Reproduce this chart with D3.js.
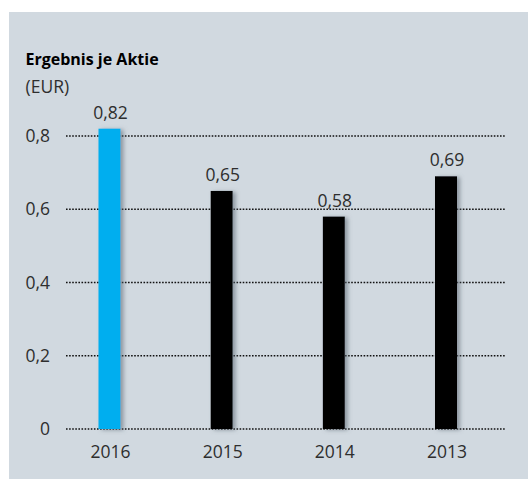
<!DOCTYPE html>
<html><head><meta charset="utf-8">
<script src="https://cdn.jsdelivr.net/npm/d3@7"></script>
<style>html,body{margin:0;padding:0;background:#fff}svg{display:block}text{font-family:"Open Sans",sans-serif;fill:#2e2e2e}</style>
</head><body>
<script>
const years = ["2016","2015","2014","2013"];
const values = [0.82,0.65,0.58,0.69];
const valueLabels = ["0,82","0,65","0,58","0,69"];
const barColors = ["#00aeef","#000000","#000000","#000000"];
const tickValues = [0,0.2,0.4,0.6,0.8];
const tickLabels = ["0","0,2","0,4","0,6","0,8"];
const title = "Ergebnis je Aktie";
const unit = "(EUR)";

const W=528,H=479;
const svg=d3.select("body").append("svg").attr("width",W).attr("height",H);
svg.append("rect").attr("x",9).attr("y",12).attr("width",W-9).attr("height",H-12).attr("fill","#d1d9e0");

const defs=svg.append("defs");
const f=defs.append("filter").attr("id","sh").attr("x","-50%").attr("y","-10%").attr("width","200%").attr("height","120%");
f.append("feDropShadow").attr("dx",3).attr("dy",1).attr("stdDeviation",2).attr("flood-color","#5f6a75").attr("flood-opacity",0.6);

const y=d3.scaleLinear().domain([0,0.8]).range([429,136]);
const x=d3.scalePoint().domain(years).range([109.5,446]);
const bw=22;
const fs=17.5;

// gridlines
svg.append("g").selectAll("line").data(tickValues).join("line")
  .attr("x1",66).attr("x2",505).attr("y1",d=>y(d)).attr("y2",d=>y(d))
  .attr("stroke","#111").attr("stroke-width",1.6).attr("stroke-dasharray","1.6 1.5");

// y labels
svg.append("g").selectAll("text").data(tickValues).join("text")
  .attr("x",50).attr("y",d=>y(d)+6).attr("text-anchor","end").attr("font-size",fs)
  .text((d,i)=>tickLabels[i]);

// bars
svg.append("g").selectAll("rect").data(years).join("rect")
  .attr("x",d=>x(d)-bw/2).attr("width",bw)
  .attr("y",(d,i)=>y(values[i])).attr("height",(d,i)=>y(0)-y(values[i]))
  .attr("fill",(d,i)=>barColors[i]).attr("filter","url(#sh)");

// value labels
svg.append("g").selectAll("text").data(years).join("text")
  .attr("x",d=>x(d)+1).attr("y",(d,i)=>y(values[i])-10).attr("text-anchor","middle").attr("font-size",fs)
  .text((d,i)=>valueLabels[i]);

// x labels
svg.append("g").selectAll("text").data(years).join("text")
  .attr("x",d=>x(d)+1).attr("y",457.5).attr("text-anchor","middle").attr("font-size",fs)
  .text(d=>d);

svg.append("text").attr("x",25.5).attr("y",65).attr("font-size",16).attr("font-weight","bold").style("fill","#000").text(title);
svg.append("text").attr("x",25.5).attr("y",93).attr("font-size",fs).text(unit);
</script>
</body></html>
